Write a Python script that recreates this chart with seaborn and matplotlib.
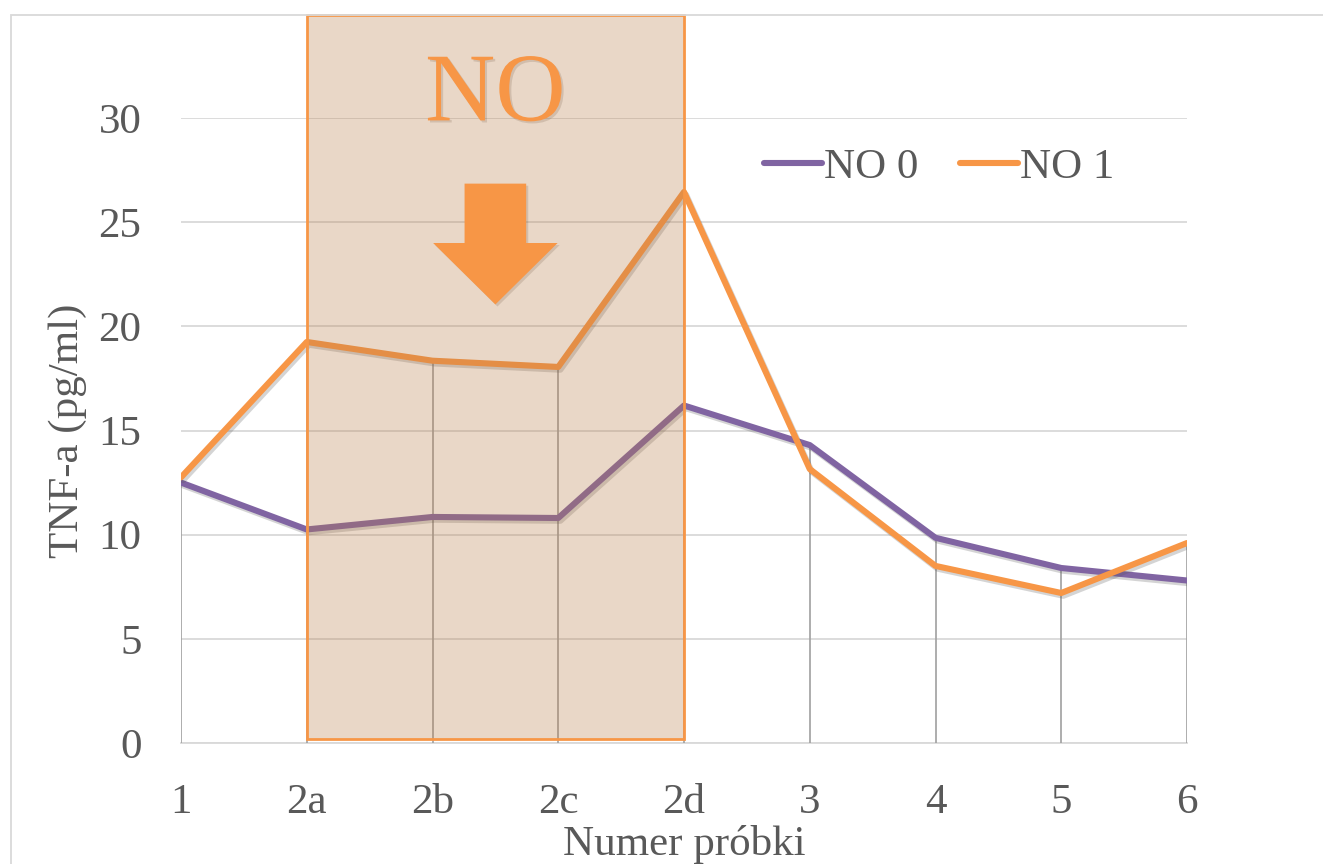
import numpy as np
import pandas as pd
import matplotlib
matplotlib.use("Agg")
import matplotlib.pyplot as plt
import matplotlib.patheffects as pe
from matplotlib.patches import Rectangle, FancyArrow
import seaborn as sns

# TNF-a concentrations per sample
samples = ["1", "2a", "2b", "2c", "2d", "3", "4", "5", "6"]
no0 = [12.5, 10.25, 10.85, 10.8, 16.2, 14.3, 9.85, 8.4, 7.8]
no1 = [12.75, 19.25, 18.35, 18.05, 26.45, 13.15, 8.5, 7.2, 9.6]
series_names = ["NO 0", "NO 1"]
colors = ["#8064A2", "#F79646"]

df = pd.DataFrame({
    "sample": samples * 2,
    "value": no0 + no1,
    "series": [series_names[0]] * len(samples) + [series_names[1]] * len(samples),
})

sns.set_style("white")
plt.rcParams["font.family"] = ["Liberation Serif", "DejaVu Serif"]
text_color = "#595959"

fig = plt.figure(figsize=(13.23, 8.64), dpi=100)
ax = fig.add_axes([181 / 1323, 1 - 743 / 864, (1187 - 181) / 1323, (743 - 118) / 864])

# chart frame
fig.patches.append(Rectangle((11 / 1323, -0.1), 1.2, 1 - 15 / 864 + 0.1,
                             transform=fig.transFigure, fill=False,
                             edgecolor="#D9D9D9", linewidth=1.3, zorder=0))

shadow = [pe.SimpleLineShadow(offset=(1.5, -2), alpha=0.25, shadow_color="#555555"), pe.Normal()]
sns.lineplot(data=df, x="sample", y="value", hue="series", palette=colors,
             linewidth=4.4, sort=False, ax=ax, legend=False, zorder=4,
             path_effects=shadow)

# drop lines from the higher series to the axis
xpos = np.arange(len(samples))
ax.vlines(xpos, 0, np.maximum(no0, no1), color="#A0A0A0", linewidth=1.2, zorder=3)

ax.set_xlim(0, len(samples) - 1)
ax.set_ylim(0, 30)
ax.set_yticks(np.arange(0, 31, 5))
ax.set_xticks(xpos)
ax.set_xticklabels(samples)
ax.yaxis.grid(True, color="#D9D9D9", linewidth=1.3)
ax.xaxis.grid(False)
ax.set_axisbelow(True)
for s in ["top", "right", "left"]:
    ax.spines[s].set_visible(False)
ax.spines["bottom"].set_color("#D9D9D9")
ax.spines["bottom"].set_linewidth(1.3)
ax.tick_params(axis="both", length=0, labelsize=31, colors=text_color)
ax.tick_params(axis="y", pad=28.5)
ax.tick_params(axis="x", pad=29)
ax.set_xlabel("Numer próbki", fontsize=31, color=text_color, labelpad=2)
ax.set_ylabel("TNF-a (pg/ml)", fontsize=31, color=text_color, labelpad=8)

# highlighted NO treatment window
ax.add_patch(Rectangle((1, 0.2), 3, 34.75, facecolor="#B97D48", alpha=0.3,
                       edgecolor="none", zorder=5, clip_on=False))
ax.add_patch(Rectangle((1, 0.2), 3, 34.75, facecolor="none", edgecolor="#F79646",
                       linewidth=2, zorder=6, clip_on=False))

ax.text(2.5, 31.0, "NO", fontsize=70, color="#F79646", ha="center", va="center",
        zorder=7, path_effects=[pe.withSimplePatchShadow(offset=(1.5, -1.5), alpha=0.15)])
ax.add_patch(FancyArrow(2.5, 26.85, 0, -5.8, width=0.49, head_width=0.99,
                        head_length=2.95, length_includes_head=True,
                        facecolor="#F79646", edgecolor="none", zorder=7,
                        path_effects=[pe.withSimplePatchShadow(offset=(1.5, -1.5), alpha=0.15)]))

handles = [plt.Line2D([], [], color=c, linewidth=4.4, solid_capstyle="round") for c in colors]
leg = fig.legend(handles, series_names, loc="center left",
                 bbox_to_anchor=(764 / 1323, 1 - 167 / 864), ncol=2, frameon=False,
                 fontsize=31, handlelength=1.35, handletextpad=0.05,
                 columnspacing=0.95, borderpad=0, borderaxespad=0)
for t in leg.get_texts():
    t.set_color(text_color)

fig.savefig("out.png", dpi=100)
